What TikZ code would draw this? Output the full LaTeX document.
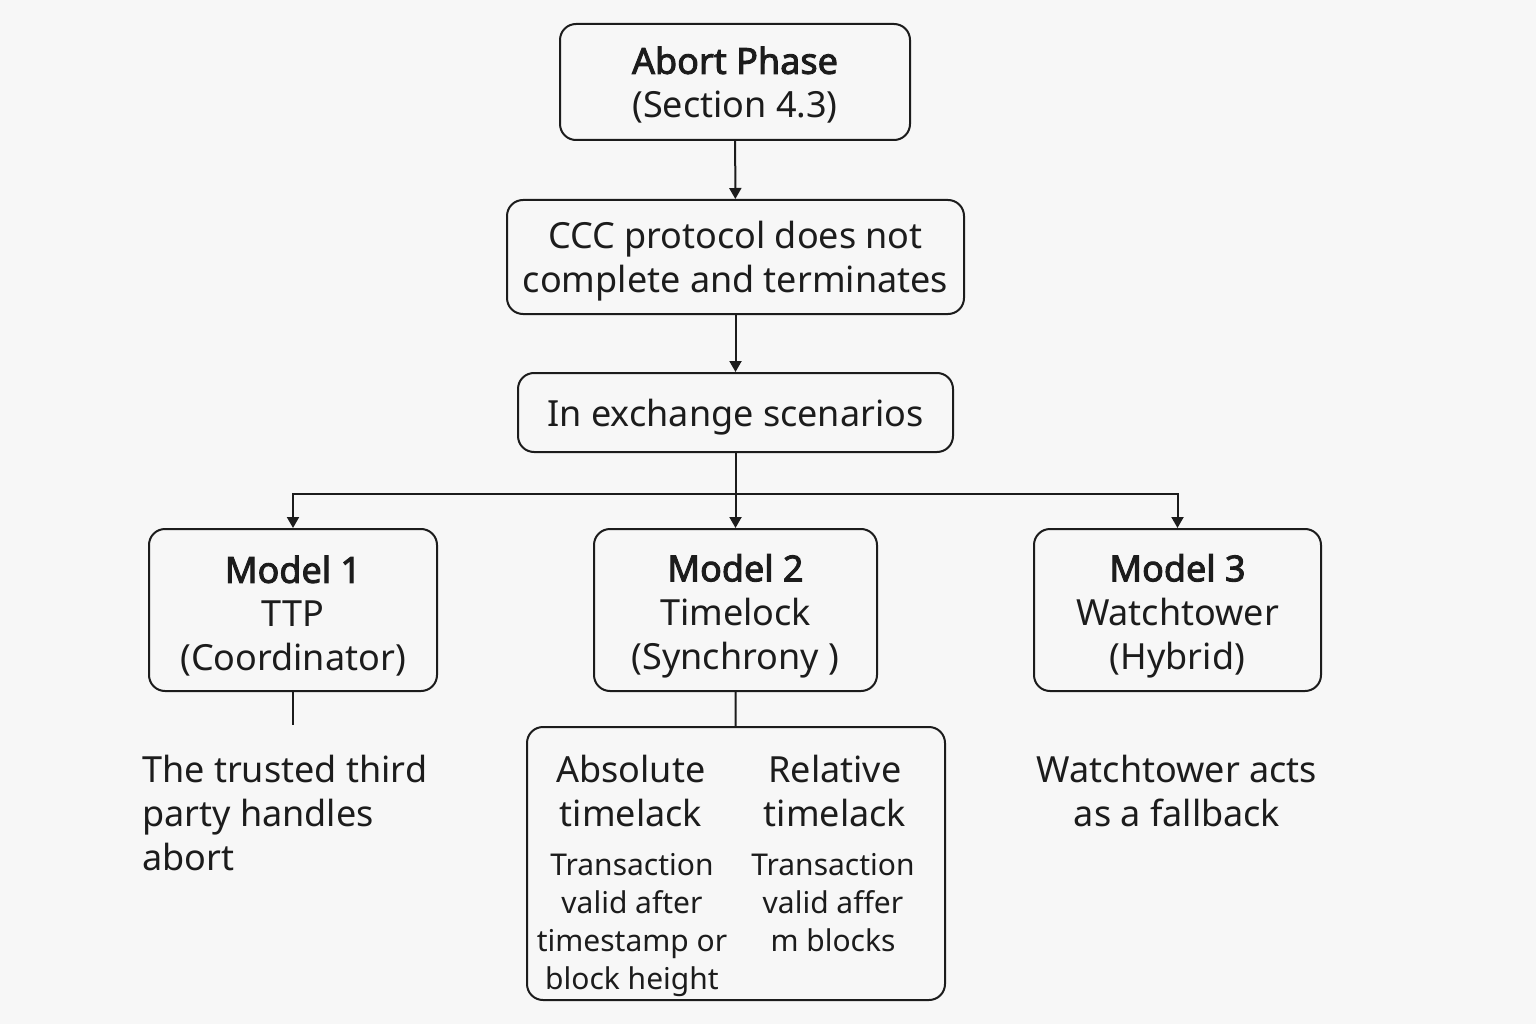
\documentclass[tikz,border=0pt]{standalone}
\usepackage{fontspec}
\setmainfont{Noto Sans}[AutoFakeBold=2.5]
\usetikzlibrary{arrows.meta}
\definecolor{bg}{HTML}{F7F7F7}
\definecolor{ink}{HTML}{1C1C1C}
\tikzset{
  box/.style={draw=ink, line width=2pt, rounded corners=16pt, inner sep=0pt},
  plain/.style={align=center, inner sep=0pt, text=ink, font=\fontsize{36}{44}\selectfont},
  small/.style={align=center, inner sep=0pt, text=ink, font=\fontsize{30}{38}\selectfont},
  conn/.style={draw=ink, line width=2pt},
  arr/.style={conn, -{Triangle[width=12pt,length=11pt]}}
}
\begin{document}
\begin{tikzpicture}[x=1pt,y=-1pt]
\fill[bg] (0,0) rectangle (1536,1024);
\useasboundingbox (0,0) rectangle (1536,1024);

\node[box, minimum width=350pt, minimum height=116pt] (abort) at (735,82) {};
\node[plain] (abortT) at (735,85) {{\bfseries Abort Phase}\\(Section 4.3)};
\node[box, minimum width=457pt, minimum height=114pt] (ccc) at (735.5,257) {};
\node[plain] (cccT) at (735.5,261) {CCC protocol does not\\complete and terminates};
\node[box, minimum width=435pt, minimum height=79pt] (ex) at (735.5,412.5) {};
\node[plain] (exT) at (735.5,417.5) {In exchange scenarios};

\node[box, minimum width=288pt, minimum height=162pt] (m1) at (293,610) {};
\node[plain] (m1T) at (293,616) {{\bfseries Model 1}\\TTP\\(Coordinator)};
\node[box, minimum width=283pt, minimum height=162pt] (m2) at (735.5,610) {};
\node[plain] (m2T) at (735.5,616) {{\bfseries Model 2}\\Timelock\\(Synchrony )};
\node[box, minimum width=287pt, minimum height=162pt] (m3) at (1177.5,610) {};
\node[plain] (m3T) at (1177.5,616) {{\bfseries Model 3}\\Watchtower\\(Hybrid)};

\node[box, minimum width=418pt, minimum height=273pt] (tl) at (736,863.5) {};
\node[plain] (abs) at (631,791) {Absolute\\timelack};
\node[plain] (rel) at (835,791) {Relative\\timelack};
\node[small] (absd) at (632,925) {Transaction\\valid after\\timestamp or\\block height};
\node[small] (reld) at (833,903) {Transaction\\valid affer\\m blocks};

\node[plain, align=left, anchor=west] (ttp) at (142,813) {The trusted third\\party handles\\abort};
\node[plain] (wt) at (1177,791) {Watchtower acts\\as a fallback};

\draw[arr] (abort) -- (ccc);
\draw[arr] (ccc) -- (ex);
\coordinate (j) at (735.5,494);
\draw[conn] (ex) -- (j);
\draw[arr] (j) -- (m2);
\draw[arr] (j) -| (m1);
\draw[arr] (j) -| (m3);
\coordinate (m1e) at (293,725);
\draw[conn] (m1) -- (m1e);
\draw[conn] (m2) -- (tl);
\end{tikzpicture}
\end{document}
